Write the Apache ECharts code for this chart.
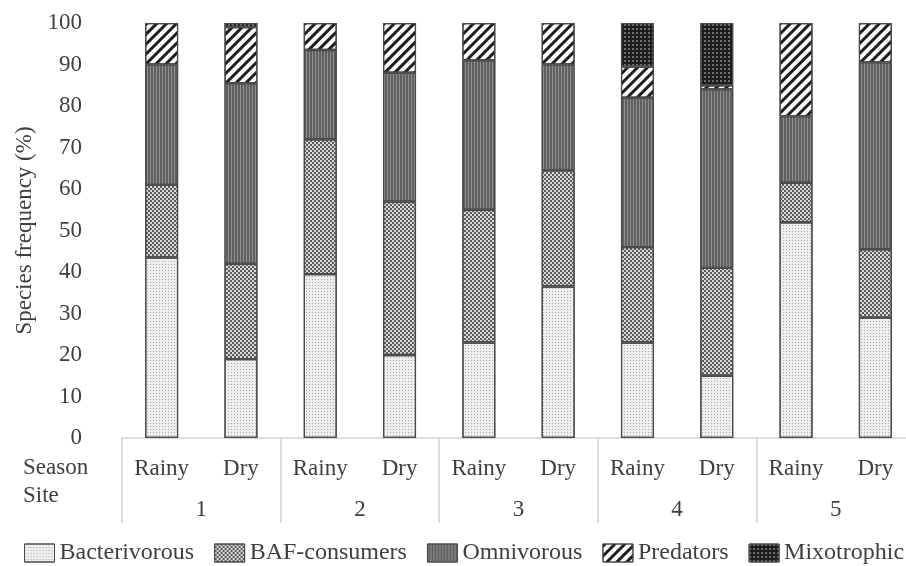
<!DOCTYPE html>
<html>
<head>
<meta charset="utf-8">
<script src="https://cdn.jsdelivr.net/npm/echarts@6/dist/echarts.min.js"></script>
<style>html,body{margin:0;padding:0;background:#fff;}#c{width:906px;height:566px;}</style>
</head>
<body>
<div id="c"></div>
<script>
const seasons = ['Rainy','Dry','Rainy','Dry','Rainy','Dry','Rainy','Dry','Rainy','Dry'];
const sites = ['1','2','3','4','5'];
const yTicks = [0,10,20,30,40,50,60,70,80,90,100];
const bacterivorous = [43.5, 19, 39.5, 20, 23, 36.5, 23, 15, 52, 29];
const bafConsumers  = [17.5, 23, 32.5, 37, 32, 28, 23, 26, 9.5, 16.5];
const omnivorous    = [29, 43.5, 21.5, 31, 36, 25.5, 36, 43, 16, 45];
const predators     = [10, 13.5, 6.5, 12, 9, 10, 7.5, 1, 22.5, 9.5];
const mixotrophic   = [0, 1, 0, 0, 0, 0, 10.5, 15, 0, 0];
const seriesNames = ['Bacterivorous','BAF-consumers','Omnivorous','Predators','Mixotrophic'];

const FONT = 'Liberation Serif';
const TXT = '#3f3f3f';

const styles = [
  {color:'#eeeeee', decal:{symbol:'rect', symbolSize:1, dashArrayX:[1,2], dashArrayY:[1,2], color:'#a8a8a8'}},
  {color:'#d8d8d8', decal:{symbol:'rect', symbolSize:1, dashArrayX:[[2,2],[0,2,2,0]], dashArrayY:[2,0], color:'#5c5c5c'}},
  {color:'#606060', decal:{symbol:'rect', symbolSize:1, dashArrayX:[1,2], dashArrayY:[1,0], color:'#8e8e8e'}},
  {color:'#ffffff', decal:{symbol:'rect', symbolSize:1, dashArrayX:[1,0], dashArrayY:[3,4], rotation:-Math.PI/4, color:'#1e1e1e'}},
  {color:'#1e1e1e', decal:{symbol:'rect', symbolSize:1, dashArrayX:[2,2], dashArrayY:[2,2], color:'#6e6e6e'}}
];
const dataSets = [bacterivorous, bafConsumers, omnivorous, predators, mixotrophic];

const series = seriesNames.map((n,i)=>({
  name:n, type:'bar', stack:'total', barWidth:33, xAxisIndex:0,
  data: dataSets[i].map(v => v === 0 ? null : v),
  itemStyle:{color:styles[i].color, decal:styles[i].decal, borderColor:'#4a4a4a', borderWidth:1.2}
}));

const chart = echarts.init(document.getElementById('c'));
chart.setOption({
  animation:false,
  backgroundColor:'#fff',
  textStyle:{fontFamily:FONT, color:TXT},
  grid:{left:122, top:23, right:-9, bottom:128, containLabel:false, outerBoundsMode:'none'},
  xAxis:[
    {type:'category', data:seasons, position:'bottom',
     axisLine:{show:false}, axisTick:{show:false},
     axisLabel:{margin:19, fontSize:23, fontFamily:FONT, color:TXT, interval:0}},
    {type:'category', data:sites, position:'bottom',
     axisLine:{show:true, lineStyle:{color:'#d4d4d4', width:1.5}},
     axisTick:{show:true, length:85, interval:0, lineStyle:{color:'#d4d4d4', width:1.5}},
     axisLabel:{margin:60, fontSize:23, fontFamily:FONT, color:TXT, interval:0}}
  ],
  yAxis:{type:'value', min:yTicks[0], max:yTicks[yTicks.length-1], interval:10,
    name:'Species frequency (%)', nameLocation:'middle', nameGap:84,
    nameTextStyle:{fontSize:23, fontFamily:FONT, color:TXT},
    axisLine:{show:false}, axisTick:{show:false}, splitLine:{show:false},
    axisLabel:{margin:40, fontSize:23, fontFamily:FONT, color:TXT}},
  legend:{data:seriesNames, top:536, left:19, width:884, itemWidth:30, itemHeight:18, itemGap:20,
    icon:'rect', textStyle:{fontSize:24, fontFamily:FONT, color:TXT},
    itemStyle:{borderColor:'#4a4a4a', borderWidth:1}},
  graphic:[
    {type:'text', left:23, top:456, style:{text:'Season', font:'23px "Liberation Serif"', fill:TXT}},
    {type:'text', left:23, top:484, style:{text:'Site', font:'23px "Liberation Serif"', fill:TXT}}
  ],
  series:series
});
</script>
</body>
</html>
